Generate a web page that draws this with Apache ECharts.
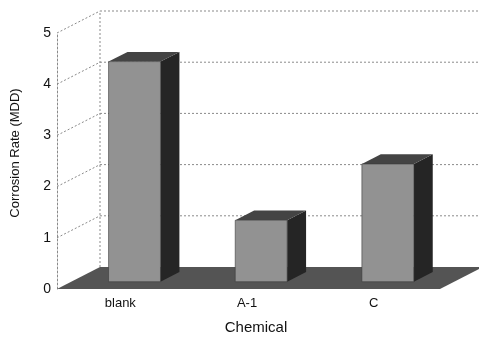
<!DOCTYPE html>
<html>
<head>
<meta charset="utf-8">
<script src="https://cdn.jsdelivr.net/npm/echarts@6/dist/echarts.min.js"></script>
<style>html,body{margin:0;padding:0;background:#fff}#c{width:479px;height:345px}</style>
</head>
<body>
<div id="c"></div>
<script>
var categories = ['blank', 'A-1', 'C'];
var corrosionRate = [4.3, 1.2, 2.3];
var yTicks = [0, 1, 2, 3, 4, 5];

var DX = 43, DY = -22;      // depth projection (pixels)
var F0 = 0.33, F1 = 0.77;   // bar front/back depth fraction
var BAR_RATIO = 0.41;

var chart = echarts.init(document.getElementById('c'), null, {renderer: 'canvas'});

function wallsItem(params, api) {
  var cs = params.coordSys;
  var x0 = cs.x, x1 = cs.x + cs.width + 3;
  var y0 = api.coord([0, 0])[1];
  var yTop = api.coord([0, yTicks[yTicks.length - 1]])[1];
  var children = [];
  var lineStyle = {stroke: '#8a8a8a', lineWidth: 1, lineDash: [2, 2]};
  yTicks.forEach(function (v) {
    if (v === 0) return;
    var y = api.coord([0, v])[1];
    children.push({type: 'line', shape: {x1: x0, y1: y, x2: x0 + DX, y2: y + DY}, style: lineStyle});
    children.push({type: 'line', shape: {x1: x0 + DX, y1: y + DY, x2: x1 + DX, y2: y + DY}, style: lineStyle});
  });
  children.push({type: 'line', shape: {x1: x0 + DX, y1: y0 + DY, x2: x0 + DX, y2: yTop + DY}, style: lineStyle});
  children.push({type: 'polygon', shape: {points: [[x0, y0], [x0 + DX, y0 + DY], [x1 + DX, y0 + DY], [x1, y0]]},
    style: {fill: '#545454'}});
  return {type: 'group', children: children};
}

function barItem(params, api) {
  var idx = api.value(0), val = api.value(1);
  var base = api.coord([idx, 0]);
  var top = api.coord([idx, val]);
  var w = api.size([1, 0])[0] * BAR_RATIO;
  var ox = F0 * DX, oy = F0 * DY;
  var dx = (F1 - F0) * DX, dy = (F1 - F0) * DY;
  var l = base[0] - w / 2 + ox, r = base[0] + w / 2 + ox;
  var b = base[1] + oy, t = top[1] + oy;
  return {type: 'group', children: [
    {type: 'polygon', shape: {points: [[r, t], [r + dx, t + dy], [r + dx, b + dy], [r, b]]}, style: {fill: '#252525'}},
    {type: 'polygon', shape: {points: [[l, t], [l + dx, t + dy], [r + dx, t + dy], [r, t]]}, style: {fill: '#444444'}},
    {type: 'rect', shape: {x: l, y: t, width: r - l, height: b - t}, style: {fill: '#929292', stroke: '#3a3a3a', lineWidth: 0.6}}
  ]};
}

chart.setOption({
  animation: false,
  backgroundColor: '#ffffff',
  textStyle: {fontFamily: 'Liberation Sans, Arial, sans-serif'},
  grid: {left: 57, width: 380, top: 33, bottom: 56, containLabel: false, outerBoundsMode: 'none'},
  xAxis: {
    type: 'category',
    data: categories,
    name: 'Chemical',
    nameLocation: 'middle',
    nameGap: 31,
    nameTextStyle: {fontSize: 15, color: '#111', padding: [0, 0, 0, 18]},
    axisLine: {show: false},
    axisTick: {show: false},
    axisLabel: {fontSize: 13, color: '#111', margin: 8},
    splitLine: {show: false}
  },
  yAxis: {
    type: 'value',
    min: 0, max: 5, interval: 1,
    name: 'Corrosion Rate (MDD)',
    nameLocation: 'middle',
    nameGap: 35,
    nameTextStyle: {fontSize: 13, color: '#111', padding: [0, 0, 0, 16]},
    axisLine: {show: true, lineStyle: {color: '#8a8a8a', type: [2, 2], width: 1}},
    axisTick: {show: false},
    axisLabel: {fontSize: 14, color: '#111', margin: 6},
    splitLine: {show: false}
  },
  series: [
    {type: 'custom', renderItem: wallsItem, data: [[0, 0]], silent: true, z: 1, clip: false},
    {type: 'custom', renderItem: barItem, data: categories.map(function (c, i) { return [i, corrosionRate[i]]; }), z: 2, clip: false}
  ]
});
</script>
</body>
</html>
